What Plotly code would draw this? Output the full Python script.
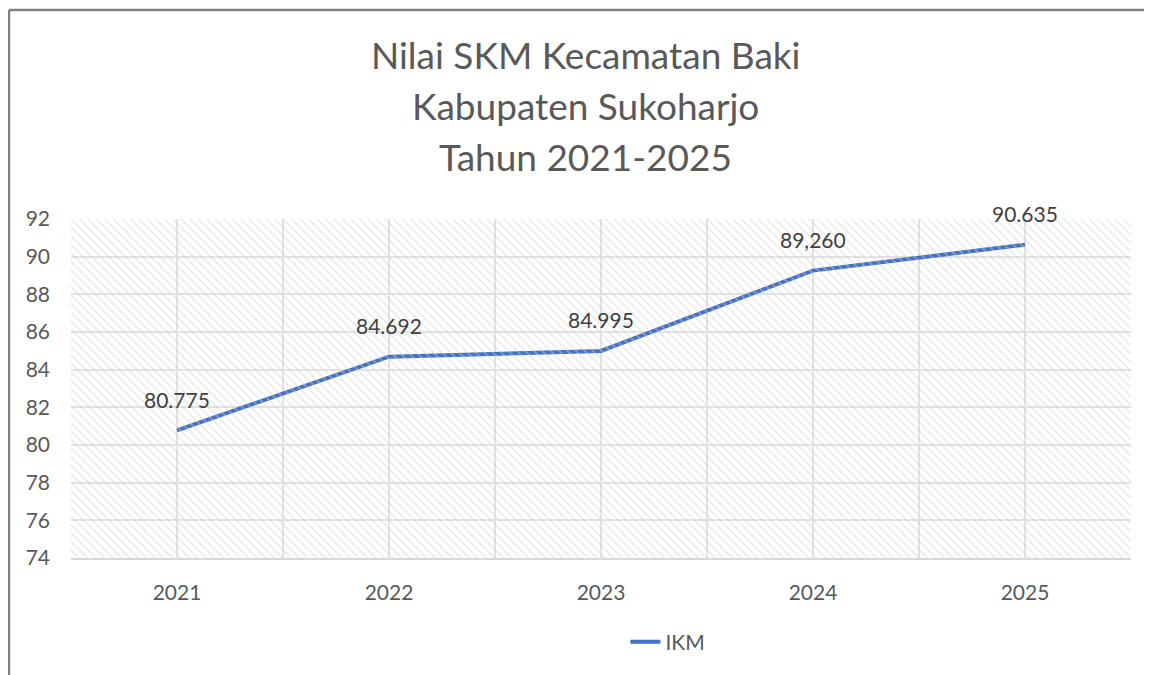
import plotly.graph_objects as go

years = ["2021", "2022", "2023", "2024", "2025"]
ikm = [80.775, 84.692, 84.995, 89.260, 90.635]
ikm_labels = ["80.775", "84.692", "84.995", "89,260", "90.635"]
title_lines = ["Nilai SKM Kecamatan Baki", "Kabupaten Sukoharjo", "Tahun 2021-2025"]
y_min, y_max, y_step = 74, 92, 2
series_name = "IKM"

FONT = "Lato, Carlito, Calibri, sans-serif"
GREY = "#595959"
idx = list(range(len(years)))

fig = go.Figure()

# hatched plot-area background
fig.add_trace(go.Bar(
    x=[0.5], y=[y_max - y_min], base=[y_min], width=[1],
    xaxis="x2", yaxis="y",
    marker=dict(color="rgba(0,0,0,0)", line=dict(width=0),
                pattern=dict(shape="\\", fgcolor="#d2d2d2", bgcolor="rgba(0,0,0,0)",
                             size=6, solidity=0.25)),
    showlegend=False, hoverinfo="skip",
))

fig.add_trace(go.Scatter(
    x=idx, y=ikm, mode="lines", name=series_name,
    line=dict(color="#4472C4", width=4),
))

for i, (v, lab) in enumerate(zip(ikm, ikm_labels)):
    fig.add_annotation(x=i, y=v, text=lab, showarrow=False, yshift=31,
                       font=dict(family=FONT, size=21, color="#404040"))

title_y = [1.484, 1.336, 1.183]
for t, yy in zip(title_lines, title_y):
    fig.add_annotation(x=0.485, y=yy, xref="paper", yref="paper", text=t,
                       showarrow=False, font=dict(family=FONT, size=37, color=GREY),
                       xanchor="center", yanchor="middle")

# outer chart border (left and top)
fig.add_shape(type="line", xref="paper", yref="paper", x0=-0.0585, x1=-0.0585,
              y0=-0.5, y1=1.6165, line=dict(color="#808080", width=2.5))
fig.add_shape(type="line", xref="paper", yref="paper", x0=-0.0585, x1=1.1,
              y0=1.6165, y1=1.6165, line=dict(color="#808080", width=2.5))

fig.update_layout(
    width=1144, height=667,
    margin=dict(l=63, r=21, t=211, b=117),
    paper_bgcolor="white", plot_bgcolor="white",
    font=dict(family=FONT, color=GREY),
    bargap=0,
    xaxis=dict(
        range=[-0.5, len(years) - 0.5], tickmode="array", tickvals=idx, ticktext=years,
        showgrid=True, gridcolor="#e3e3e3", gridwidth=1.5,
        minor=dict(tick0=-0.5, dtick=1, showgrid=True, gridcolor="#e3e3e3", gridwidth=1.5),
        zeroline=False, showline=True, linecolor="#d9d9d9", linewidth=1.5, mirror=False,
        tickfont=dict(family=FONT, size=21, color=GREY), ticks="", ticklabelstandoff=15,
    ),
    xaxis2=dict(range=[0, 1], overlaying="x", visible=False, showgrid=False),
    yaxis=dict(
        range=[y_min, y_max], dtick=y_step, tick0=y_min,
        showgrid=True, gridcolor="#e3e3e3", gridwidth=1.5, zeroline=False,
        showline=False, ticks="",
        tickfont=dict(family=FONT, size=21, color=GREY), ticklabelstandoff=20,
    ),
    legend=dict(orientation="h", x=0.523, xanchor="left", y=-0.248, yanchor="middle",
                font=dict(family=FONT, size=21, color=GREY)),
    showlegend=True,
)

fig.write_html("out.html")
